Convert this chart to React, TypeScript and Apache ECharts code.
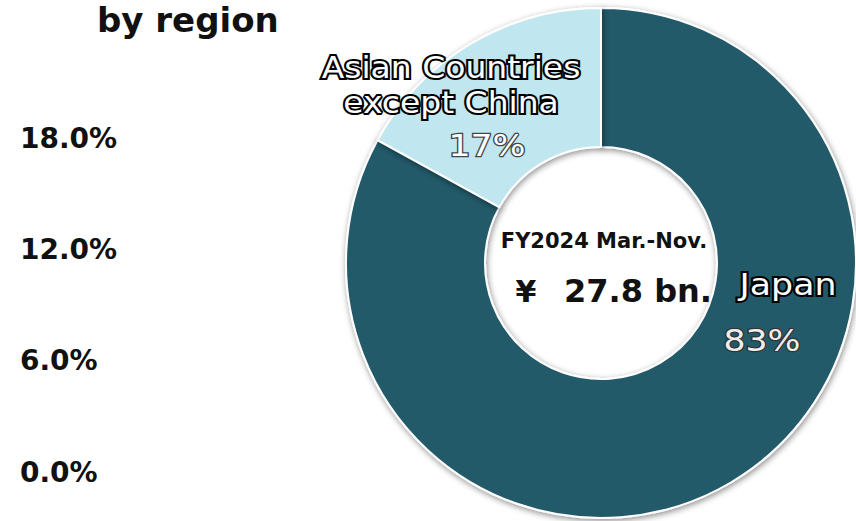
import React, { useEffect, useRef } from "react";
import * as echarts from "echarts";

const title = "by region";
const categories = ["Japan", "Asian Countries\nexcept China"];
const values = [83, 17];
const colors = ["#235a6a", "#c0e6f0"];
const centerPeriod = "FY2024 Mar.-Nov.";
const centerAmountCurrency = "¥";
const centerAmount = "27.8 bn.";
const axisTicks = [0, 6, 12, 18];

export default function App() {
  const ref = useRef<HTMLDivElement>(null);
  useEffect(() => {
    if (!ref.current) return;
    const chart = echarts.init(ref.current, null, { renderer: "svg" });
    const total = values.reduce((a, b) => a + b, 0);
    const pct = values.map((v) => Math.round((v / total) * 100) + "%");
    const labelFont = "DejaVu Sans";
    const boldFont = "DejaVu Sans";

    const txt = (
      text: string,
      x: number,
      y: number,
      size: number,
      scaleX: number,
      opts: Record<string, unknown>
    ) => ({
      type: "text",
      x,
      y,
      scaleX,
      z: 100,
      silent: true,
      style: {
        text,
        fontSize: size,
        fontFamily: labelFont,
        align: "center",
        verticalAlign: "middle",
        ...opts,
      },
    });

    chart.setOption({
      animation: false,
      title: {
        text: title,
        left: 92,
        top: -2,
        textStyle: { fontSize: 34, fontWeight: "bold", color: "#111", fontFamily: boldFont },
      },
      grid: { left: 120, top: 138, bottom: 49, width: 10 },
      xAxis: { type: "value", show: false },
      yAxis: {
        type: "value",
        min: axisTicks[0],
        max: axisTicks[axisTicks.length - 1],
        interval: axisTicks[1] - axisTicks[0],
        axisLine: { show: false },
        axisTick: { show: false },
        splitLine: { show: false },
        axisLabel: {
          formatter: (v: number) => v.toFixed(1) + "%",
          fontSize: 28,
          fontWeight: "bold",
          color: "#111",
          fontFamily: boldFont,
          align: "left",
          margin: 100,
        },
      },
      series: [
        {
          type: "pie",
          center: [601, 263],
          radius: [116, 255],
          startAngle: 90,
          clockwise: true,
          z: 1,
          label: { show: false },
          labelLine: { show: false },
          emphasis: { disabled: true },
          itemStyle: {
            borderColor: "#ffffff",
            borderWidth: 2,
            shadowBlur: 6,
            shadowColor: "rgba(0,0,0,0.45)",
            shadowOffsetX: 1,
            shadowOffsetY: 2,
          },
          data: categories.map((c, i) => ({
            name: c,
            value: values[i],
            itemStyle: { color: colors[i] },
          })),
        },
      ],
      graphic: [
        txt(categories[1], 451, 85, 30, 1.1, {
          fill: "#ffffff",
          stroke: "#000000",
          lineWidth: 4,
          lineHeight: 35,
        }),
        txt(pct[1], 487, 145, 31, 1.12, { fill: "#ffffff", stroke: "#444444", lineWidth: 2.5 }),
        txt(categories[0], 788, 284, 31, 1.12, { fill: "#ffffff", stroke: "#000000", lineWidth: 4 }),
        txt(pct[0], 762, 340, 31, 1.12, { fill: "#eeeeee", stroke: "#333333", lineWidth: 2.5 }),
        txt(centerPeriod, 604, 241, 21, 1, { fill: "#111111", fontWeight: "bold", fontFamily: boldFont }),
        txt(centerAmountCurrency, 526, 291, 30, 1, {
          fill: "#111111",
          fontWeight: "bold",
          fontFamily: boldFont,
        }),
        txt(centerAmount, 712, 291, 32, 1, {
          fill: "#111111",
          fontWeight: "bold",
          fontFamily: boldFont,
          align: "right",
        }),
      ],
    });
    return () => chart.dispose();
  }, []);
  return (
    <div
      ref={ref}
      style={{ position: "fixed", left: 0, top: 0, width: 856, height: 521, background: "#fff" }}
    />
  );
}
